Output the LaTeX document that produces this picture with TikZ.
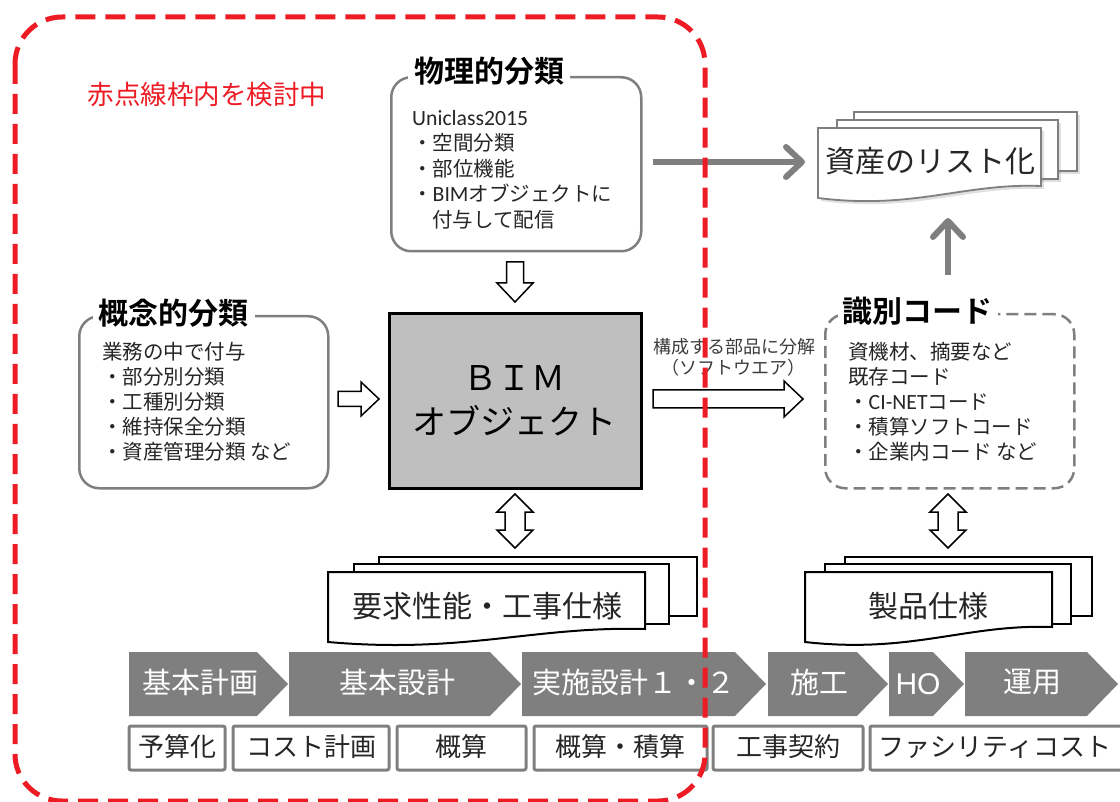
\documentclass[tikz,border=0pt]{standalone}
\usepackage{fontspec}
\setmainfont[BoldFont={Noto Sans CJK JP Bold}]{Noto Sans CJK JP}
\newfontfamily\lat[Scale=1.06]{Carlito}
\newfontfamily\arial{Liberation Sans}
\usetikzlibrary{arrows.meta,shadows}
\definecolor{rd}{RGB}{237,28,36}
\definecolor{gr}{RGB}{127,127,127}
\definecolor{bimfill}{RGB}{191,191,191}
\definecolor{txt}{RGB}{38,38,38}
\tikzset{
  graybox/.style={draw=gr, line width=2.5pt, rounded corners=20pt, fill=white},
  dashbox/.style={draw=gr, line width=2.5pt, rounded corners=20pt, fill=white, dash pattern=on 12pt off 6pt},
  titletxt/.style={font=\fontsize{30}{32}\selectfont\bfseries, text=black, fill=white, inner xsep=6pt, inner ysep=1pt},
  bodytxt/.style={font=\fontsize{20.5}{24}\selectfont, text=txt, anchor=base west, inner sep=0pt},
  grayarrow/.style={draw=gr, line width=6pt, -{Straight Barb[length=16pt,width=30pt,round]}},
  blockarrow/.style={draw=black, line width=1.5pt, fill=white, line join=miter},
  doc/.style={draw=black, line width=2pt, fill=white},
  gdoc/.style={draw=gr, line width=1.8pt, fill=white, drop shadow={opacity=0.25, shadow xshift=3pt, shadow yshift=-3pt}},
  phase/.style={fill=gr, draw=none},
  phasetxt/.style={font=\fontsize{29}{30}\selectfont, text=white, inner sep=0pt},
  stagebox/.style={draw=gr, line width=3pt, fill=white, rounded corners=2pt},
  stagetxt/.style={font=\fontsize{26}{28}\selectfont, text=txt, inner sep=0pt},
  doctxt/.style={font=\fontsize{30}{32}\selectfont, text=txt, inner sep=0pt},
}
\begin{document}
\begin{tikzpicture}[x=1pt,y=-1pt]
\useasboundingbox (0,0) rectangle (1120,802);

% ---------------- red note
\node[font=\fontsize{26.5}{28}\selectfont, text=rd, inner sep=0pt] (note) at (207,94) {赤点線枠内を検討中};

% ---------------- physical classification
\node[graybox, minimum width=250pt, minimum height=174pt, anchor=north west] (phys) at (390,76) {};
\node[titletxt] (physT) at (489,71) {物理的分類};
\node[bodytxt] (p1) at (412,125.6) {{\lat Uniclass2015}};
\node[bodytxt] (p2) at (412,151) {・空間分類};
\node[bodytxt] (p3) at (412,176.6) {・部位機能};
\node[bodytxt] (p4) at (412,202) {・{\lat BIM}オブジェクトに};
\node[bodytxt] (p5) at (432,227.6) {付与して配信};

% ---------------- conceptual classification
\node[graybox, minimum width=249pt, minimum height=172pt, anchor=north west] (conc) at (78,315) {};
\node[titletxt] (concT) at (173.5,313) {概念的分類};
\node[bodytxt] (c1) at (102,359.6) {業務の中で付与};
\node[bodytxt] (c2) at (102,384.6) {・部分別分類};
\node[bodytxt] (c3) at (102,409.6) {・工種別分類};
\node[bodytxt] (c4) at (102,434.6) {・維持保全分類};
\node[bodytxt] (c5) at (102,459.6) {・資産管理分類 など};

% ---------------- BIM object
\node[draw=black, line width=3pt, fill=bimfill, minimum width=252pt, minimum height=175pt, anchor=north west] (bim) at (388,312) {};
\node[font=\fontsize{34}{36}\selectfont, inner sep=0pt] (bim1) at (514,378) {ＢＩＭ};
\node[font=\fontsize{34}{36}\selectfont, inner sep=0pt] (bim2) at (514,421) {オブジェクト};

% ---------------- identification code
\node[dashbox, minimum width=249pt, minimum height=174pt, anchor=north west] (idc) at (824,313) {};
\node[titletxt, inner xsep=5pt] (idcT) at (917.5,311) {識別コード};
\node[bodytxt] (i1) at (848,359.6) {資機材、摘要など};
\node[bodytxt] (i2) at (848,384.6) {既存コード};
\node[bodytxt] (i3) at (848,409.6) {・{\lat CI-NET}コード};
\node[bodytxt] (i4) at (848,434.6) {・積算ソフトコード};
\node[bodytxt] (i5) at (848,459.6) {・企業内コード など};

% ---------------- asset list documents
\draw[gdoc] (854,112) rectangle (1077,171);
\draw[gdoc] (837,120) rectangle (1058,179);
\draw[gdoc] (818,128) -- (1041,128) -- (1041,186) .. controls (963,183) and (914,210) .. (818,198) -- cycle;
\node[doctxt] (asset) at (930,161) {資産のリスト化};
\coordinate (assetW) at (805,162);
\coordinate (assetS) at (948,218);
\coordinate (idcN) at (948,275);

% ---------------- requirement documents
\draw[doc] (379,557) rectangle (697,616);
\draw[doc] (354,564) rectangle (669,624);
\draw[doc] (328,572) -- (645,572) -- (645,629) .. controls (534,626) and (464,654) .. (328,642) -- cycle;
\node[doctxt] (req) at (487,606) {要求性能・工事仕様};

% ---------------- product documents
\draw[doc] (845,557) rectangle (1092,616);
\draw[doc] (825,564) rectangle (1071,624);
\draw[doc] (805,572) -- (1052,572) -- (1052,627) .. controls (966,624) and (911,654) .. (805,642) -- cycle;
\node[doctxt] (prod) at (928,606) {製品仕様};

% ---------------- gray arrows
\draw[grayarrow] ([xshift=10pt]phys.east |- assetW) -- (assetW);
\draw[grayarrow] (idcN) -- (assetS);

% ---------------- block arrows
\draw[blockarrow] (506.5,262) -- (523.5,262) -- (523.5,283) -- (533,283) -- (515,302) -- (497,283) -- (506.5,283) -- cycle;
\draw[blockarrow] (338,391.5) -- (361,391.5) -- (361,382) -- (379,399) -- (361,416) -- (361,406.5) -- (338,406.5) -- cycle;
\draw[blockarrow] (653,390) -- (784,390) -- (784,381) -- (803,399) -- (784,417) -- (784,408) -- (653,408) -- cycle;
\foreach \xc in {515,948}{
  \draw[blockarrow] (\xc,494) -- (\xc+18,512) -- (\xc+10,512) -- (\xc+10,530) -- (\xc+18,530) -- (\xc,548) -- (\xc-18,530) -- (\xc-10,530) -- (\xc-10,512) -- (\xc-18,512) -- cycle;
}
\node[font=\fontsize{18}{20}\selectfont, text=txt!90, inner sep=0pt] (lab1) at (734,347) {構成する部品に分解};
\node[font=\fontsize{18}{20}\selectfont, text=txt!90, inner sep=0pt] (lab2) at (733,368) {（ソフトウエア）};

% ---------------- phases
\fill[phase] (129,652) -- (257,652) -- (288,684) -- (257,716) -- (129,716) -- cycle;
\fill[phase] (289,652) -- (490,652) -- (521,684) -- (490,716) -- (289,716) -- cycle;
\fill[phase] (522,652) -- (735,652) -- (766,684) -- (735,716) -- (522,716) -- cycle;
\fill[phase] (768,652) -- (857,652) -- (888,684) -- (857,716) -- (768,716) -- cycle;
\fill[phase] (889,652) -- (933,652) -- (964,684) -- (933,716) -- (889,716) -- cycle;
\fill[phase] (965,652) -- (1087,652) -- (1118,684) -- (1087,716) -- (965,716) -- cycle;
\node[phasetxt] (ph1) at (200,682) {基本計画};
\node[phasetxt] (ph2) at (397,682) {基本設計};
\node[phasetxt] (ph3) at (634,682) {実施設計１・２};
\node[phasetxt] (ph4) at (819,682) {施工};
\node[phasetxt, font=\arial\fontsize{30}{30}\selectfont] (ph5) at (918,684) {HO};
\node[phasetxt] (ph6) at (1032,682) {運用};

% ---------------- stage boxes
\draw[stagebox] (129,726) rectangle (225,770);
\draw[stagebox] (233,726) rectangle (389,770);
\draw[stagebox] (397,726) rectangle (526,770);
\draw[stagebox] (534,726) rectangle (707,770);
\draw[stagebox] (713,726) rectangle (863,770);
\draw[stagebox] (870,726) rectangle (1135,770);
\node[stagetxt] (s1) at (177,747) {予算化};
\node[stagetxt] (s2) at (311,747) {コスト計画};
\node[stagetxt] (s3) at (461,747) {概算};
\node[stagetxt] (s4) at (620,747) {概算・積算};
\node[stagetxt] (s5) at (788,747) {工事契約};
\node[stagetxt] (s6) at (995,747) {ファシリティコスト};

% ---------------- red dashed frame
\draw[rd, line width=5pt, dash pattern=on 20pt off 10pt, rounded corners=47pt] (15,17) rectangle (705,801);
\end{tikzpicture}
\end{document}
